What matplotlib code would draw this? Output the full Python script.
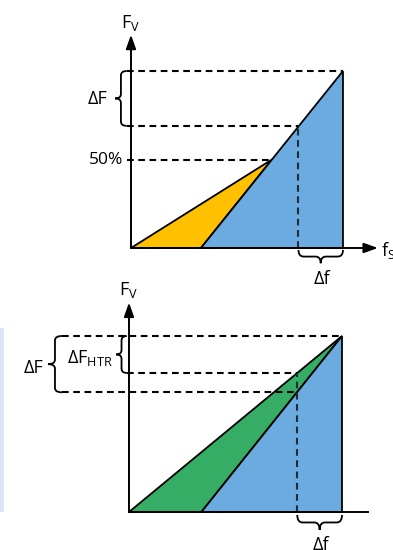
import matplotlib
matplotlib.use("Agg")
import matplotlib.pyplot as plt
from matplotlib.path import Path
from matplotlib.patches import PathPatch, Polygon, Rectangle

plt.rcParams['font.family'] = ['Open Sans', 'DejaVu Sans']
plt.rcParams['mathtext.default'] = 'regular'

# --- data (normalised: f_s on x, F_V on y) ---
# top chart: yellow + blue area
top_origin = (0.0, 0.0)
top_knee = (0.665, 0.50)        # 50 % point
top_blue_start = 0.33
top_end = (1.0, 1.0)
top_fs_mark = 0.79              # dashed vertical
top_levels = [1.0, 0.69, 0.50]  # dashed horizontal levels
top_labels = ['ΔF', '50%']

# bottom chart: green + blue area
bot_origin = (0.0, 0.0)
bot_green_start = 0.34
bot_end = (1.0, 1.0)
bot_fs_mark = 0.79
bot_levels = [1.0, 0.79, 0.68]
bot_labels = ['ΔF', r'$\Delta F_{HTR}$']

YELLOW = '#FFC000'
BLUE = '#6BABDF'
GREEN = '#35AD64'
DASH = (0, (3.2, 2.2))
LW_DASH = 1.5
LW_AX = 1.4
LW_EDGE = 1.3


def brace(ax, a, b, base, h, vertical=True, r=0.02, lw=1.3):
    # curly brace along [a,b]; depth goes from base by h
    m = (a + b) / 2
    sg = 1 if b > a else -1
    s = [a, a + sg * r, m - sg * r, m, m + sg * r, b - sg * r, b]
    d0, d1, d2 = base, base + h / 2, base + h
    pts = [(s[0], d0), (s[0], d1), (s[1], d1),
           (s[2], d1), (s[3], d1), (s[3], d2),
           (s[3], d1), (s[4], d1),
           (s[5], d1), (s[6], d1), (s[6], d0)]
    codes = [Path.MOVETO, Path.CURVE3, Path.CURVE3,
             Path.LINETO, Path.CURVE3, Path.CURVE3,
             Path.CURVE3, Path.CURVE3,
             Path.LINETO, Path.CURVE3, Path.CURVE3]
    if vertical:
        pts = [(q, p) for p, q in pts]
    ax.add_patch(PathPatch(Path(pts, codes), fill=False, lw=lw,
                           color='black', clip_on=False))


fig = plt.figure(figsize=(3.93, 5.5), dpi=100)
ax1 = fig.add_axes([0.3333, 0.5491, 0.5394, 0.3218])
ax2 = fig.add_axes([0.3282, 0.0691, 0.542, 0.32])
for ax in (ax1, ax2):
    ax.set_xlim(0, 1)
    ax.set_ylim(0, 1)
    ax.axis('off')

arrow = dict(arrowstyle='-|>,head_length=0.7,head_width=0.25', lw=LW_AX,
             color='black', mutation_scale=12, shrinkA=0, shrinkB=0)

# ---------------- top chart ----------------
ax1.add_patch(Polygon([top_origin, top_knee, (top_blue_start, 0)],
                      closed=True, fc=YELLOW, ec='black', lw=LW_EDGE,
                      clip_on=False, zorder=2))
ax1.add_patch(Polygon([(top_blue_start, 0), top_knee, top_end,
                       (top_end[0], 0)],
                      closed=True, fc=BLUE, ec='black', lw=LW_EDGE,
                      clip_on=False, zorder=2))
ax1.plot([-0.02, top_end[0]], [top_levels[0]] * 2, color='black',
         lw=LW_DASH, ls=DASH, clip_on=False)
ax1.plot([-0.02, top_fs_mark], [top_levels[1]] * 2, color='black',
         lw=LW_DASH, ls=DASH, clip_on=False)
ax1.plot([-0.02, top_knee[0]], [top_levels[2]] * 2, color='black',
         lw=LW_DASH, ls=DASH, clip_on=False)
ax1.plot([top_fs_mark] * 2, [0, top_levels[1]], color='#1f2a3a',
         lw=LW_DASH, ls=DASH, clip_on=False, zorder=3)
# axes with arrows
ax1.annotate('', xy=(0, 1.205), xytext=(0, 0), arrowprops=arrow,
             annotation_clip=False, zorder=4)
ax1.annotate('', xy=(1.165, 0), xytext=(0, 0), arrowprops=arrow,
             annotation_clip=False, zorder=4)
ax1.text(0.0, 1.243, r'$F_V$', ha='center', va='baseline', fontsize=13)
ax1.text(1.18, -0.045, r'$f_S$', ha='left', va='baseline', fontsize=13)
brace(ax1, top_levels[0], top_levels[1], -0.02, -0.055, True, r=0.025)
ax1.text(-0.16, 0.84, top_labels[0], ha='center', va='center', fontsize=13)
ax1.text(-0.036, 0.5, top_labels[1], ha='right', va='center', fontsize=12.5)
brace(ax1, top_fs_mark, top_end[0], -0.011, -0.075, False, r=0.025)
ax1.text(0.9, -0.175, 'Δf', ha='center', va='center', fontsize=13)

# ---------------- bottom chart ----------------
ax2.add_patch(Polygon([bot_origin, bot_end, (bot_green_start, 0)],
                      closed=True, fc=GREEN, ec='black', lw=LW_EDGE,
                      clip_on=False, zorder=2))
ax2.add_patch(Polygon([(bot_green_start, 0), bot_end, (bot_end[0], 0)],
                      closed=True, fc=BLUE, ec='black', lw=LW_EDGE,
                      clip_on=False, zorder=2))
ax2.plot([-0.315, bot_end[0]], [bot_levels[0]] * 2, color='black',
         lw=LW_DASH, ls=DASH, clip_on=False)
ax2.plot([-0.01, bot_fs_mark], [bot_levels[1]] * 2, color='black',
         lw=LW_DASH, ls=DASH, clip_on=False)
ax2.plot([-0.315, bot_fs_mark], [bot_levels[2]] * 2, color='black',
         lw=LW_DASH, ls=DASH, clip_on=False)
ax2.plot([bot_fs_mark] * 2, [0, bot_levels[1]], color='#1f2a3a',
         lw=LW_DASH, ls=DASH, clip_on=False, zorder=3)
ax2.annotate('', xy=(0, 1.19), xytext=(0, 0), arrowprops=arrow,
             annotation_clip=False, zorder=4)
ax2.plot([0, 1.12], [0, 0], color='black', lw=LW_AX, clip_on=False,
         zorder=4)
ax2.text(0.0, 1.233, r'$F_V$', ha='center', va='baseline', fontsize=13)
brace(ax2, bot_levels[0], bot_levels[1], -0.01, -0.05, True, r=0.025)
brace(ax2, bot_levels[0], bot_levels[2], -0.315, -0.065, True, r=0.025)
ax2.text(-0.075, 0.845, bot_labels[1], ha='right', va='baseline',
         fontsize=13)
ax2.text(-0.4, 0.79, bot_labels[0], ha='right', va='baseline', fontsize=13)
brace(ax2, bot_fs_mark, bot_end[0], -0.017, -0.085, False, r=0.025)
ax2.text(0.9, -0.19, 'Δf', ha='center', va='center', fontsize=13)

# light strip on the left edge
fig.patches.append(Rectangle((0, 0.069), 0.0102, 0.3345,
                             transform=fig.transFigure, fc='#dde4f7',
                             ec='none'))

fig.savefig('out.png', dpi=100)
